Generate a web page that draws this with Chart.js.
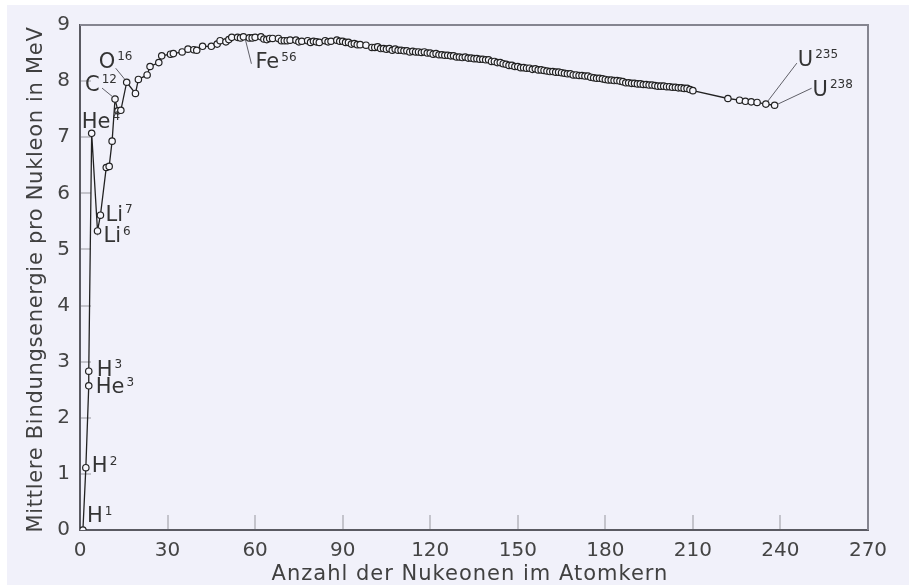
<!DOCTYPE html>
<html><head><meta charset="utf-8">
<script src="https://cdn.jsdelivr.net/npm/chart.js@4.4.0/dist/chart.umd.min.js"></script>
<style>
html,body{margin:0;padding:0;background:#ffffff;}
#wrap{position:absolute;left:0;top:0;width:909px;height:586px;}
canvas{display:block;}
</style></head><body>
<div id="wrap"><canvas id="c" width="909" height="586"></canvas></div>
<script>
// Mass numbers (Anzahl der Nukleonen) and mean binding energy per nucleon (MeV)
const massNumbers = [1,2,3,3,4,6,7,9,10,11,12,13,14,16,19,20,23,24,27,28,31,32,35,37,39,40,42,45,47,48,50,51,52,54,55,56,58,59,60,62,63,64,65,66,68,69,70,71,72,74,75,76,78,79,80,81,82,84,85,86,88,89,90,91,92,93,94,95,96,98,100,101,102,103,104,105,106,107,108,109,110,111,112,113,114,115,116,117,118,119,120,121,122,123,124,125,126,127,128,129,130,131,132,133,134,135,136,137,138,139,140,141,142,143,144,145,146,147,148,149,150,151,152,153,154,155,156,157,158,159,160,161,162,163,164,165,166,167,168,169,170,171,172,173,174,175,176,177,178,179,180,181,182,183,184,185,186,187,188,189,190,191,192,193,194,195,196,197,198,199,200,201,202,203,204,205,206,207,208,209,210,222,226,228,230,232,235,238];
const bindingEnergy = [0,1.11,2.57,2.83,7.07,5.33,5.61,6.46,6.48,6.93,7.68,7.47,7.48,7.98,7.78,8.03,8.11,8.26,8.33,8.45,8.48,8.49,8.52,8.57,8.56,8.55,8.62,8.62,8.66,8.72,8.70,8.74,8.78,8.78,8.77,8.79,8.77,8.77,8.78,8.79,8.75,8.74,8.76,8.76,8.76,8.72,8.72,8.72,8.73,8.73,8.70,8.71,8.72,8.69,8.71,8.70,8.69,8.72,8.70,8.71,8.73,8.71,8.71,8.69,8.69,8.66,8.67,8.65,8.65,8.64,8.60,8.60,8.61,8.58,8.58,8.57,8.58,8.55,8.57,8.55,8.55,8.54,8.54,8.52,8.53,8.52,8.52,8.51,8.52,8.50,8.50,8.48,8.49,8.47,8.47,8.46,8.46,8.45,8.45,8.43,8.43,8.42,8.43,8.41,8.41,8.40,8.40,8.39,8.39,8.38,8.38,8.35,8.35,8.33,8.33,8.31,8.30,8.28,8.28,8.26,8.26,8.24,8.24,8.23,8.23,8.21,8.22,8.20,8.20,8.19,8.18,8.17,8.17,8.16,8.16,8.15,8.14,8.13,8.13,8.11,8.11,8.10,8.10,8.09,8.09,8.07,8.06,8.05,8.05,8.04,8.03,8.02,8.02,8.01,8.01,8.00,7.99,7.97,7.97,7.96,7.96,7.95,7.95,7.94,7.94,7.93,7.93,7.92,7.91,7.91,7.91,7.90,7.90,7.89,7.89,7.88,7.88,7.87,7.87,7.85,7.83,7.69,7.66,7.64,7.63,7.62,7.59,7.57];
const xTickValues = [0,30,60,90,120,150,180,210,240,270];
const yTickValues = [0,1,2,3,4,5,6,7,8,9];
const xTitle = 'Anzahl der Nukeonen im Atomkern';
const yTitle = 'Mittlere Bindungsenergie pro Nukleon in MeV';
// Labelled nuclides: element symbol, mass superscript, index of the data point
const labelSymbols = ['H','H','H','He','He','Li','Li','C','O','Fe','U','U'];
const labelMasses  = ['1','2','3','3','4','7','6','12','16','56','235','238'];
const labelPoints  = [0,1,3,2,4,6,5,10,13,massNumbers.indexOf(56),massNumbers.length-2,massNumbers.length-1];

// styling of labels: text offset from point (dx = left edge, dy = vertical middle), optional leader line
const labelStyle = [
  {dx:4, dy:-13},
  {dx:6, dy:-1},
  {dx:8, dy:-1},
  {dx:7, dy:2},
  {dx:-10, dy:-11},
  {dx:5, dy:0},
  {dx:6, dy:6},
  {dx:-30, dy:-14, lead:[-13,-11,-2,-2]},
  {dx:-28, dy:-20, lead:[-11,-14,-2,-3]},
  {dx:12, dy:26, lead:[2,3,8,27]},
  {dx:32, dy:-44, lead:[2,-3,31,-41]},
  {dx:38, dy:-15, lead:[3,-1,37,-17]}
];

const points = massNumbers.map((a,i)=>({x:a, y:bindingEnergy[i]}));
const FONT = "'DejaVu Sans', sans-serif";

const deco = {
  id:'deco',
  beforeDraw(chart){
    const ctx = chart.ctx;
    ctx.save();
    ctx.fillStyle = '#ffffff';
    ctx.fillRect(0,0,chart.width,chart.height);
    ctx.fillStyle = '#f1f1fa';
    ctx.fillRect(7,5,chart.width-7,chart.height-6);
    const a = chart.chartArea, xs = chart.scales.x, ys = chart.scales.y;
    // inward tick marks
    ctx.strokeStyle = '#c4c4cc';
    ctx.lineWidth = 2;
    yTickValues.forEach(v=>{
      if(v===0||v===9) return;
      const y = Math.round(ys.getPixelForValue(v));
      ctx.beginPath(); ctx.moveTo(a.left, y); ctx.lineTo(a.left+11, y); ctx.stroke();
    });
    xTickValues.forEach(v=>{
      if(v===0||v===270) return;
      const x = Math.round(xs.getPixelForValue(v));
      ctx.beginPath(); ctx.moveTo(x, a.bottom); ctx.lineTo(x, a.bottom-15); ctx.stroke();
    });
    ctx.restore();
  },
  afterDraw(chart){
    const ctx = chart.ctx;
    const a = chart.chartArea, xs = chart.scales.x, ys = chart.scales.y;
    ctx.save();
    // top & right frame
    ctx.strokeStyle = '#858590';
    ctx.lineWidth = 2;
    ctx.beginPath();
    ctx.moveTo(a.left, a.top); ctx.lineTo(a.right, a.top); ctx.lineTo(a.right, a.bottom);
    ctx.stroke();
    // axis titles
    ctx.fillStyle = '#404040';
    ctx.font = '21px ' + FONT;
    ctx.letterSpacing = '1px';
    ctx.textAlign = 'center';
    ctx.textBaseline = 'middle';
    ctx.fillText(xTitle, (a.left+a.right)/2 - 4, 575);
    ctx.letterSpacing = '0.7px';
    ctx.save();
    ctx.translate(37, (a.top+a.bottom)/2 + 2);
    ctx.rotate(-Math.PI/2);
    ctx.fillText(yTitle, 0, 0);
    ctx.restore();
    ctx.letterSpacing = '0px';
    // nuclide labels
    labelSymbols.forEach((sym,i)=>{
      const p = points[labelPoints[i]];
      const px = xs.getPixelForValue(p.x), py = ys.getPixelForValue(p.y);
      const st = labelStyle[i];
      if(st.lead){
        ctx.strokeStyle = '#606068';
        ctx.lineWidth = 1;
        ctx.beginPath();
        ctx.moveTo(px+st.lead[0], py+st.lead[1]);
        ctx.lineTo(px+st.lead[2], py+st.lead[3]);
        ctx.stroke();
      }
      ctx.fillStyle = '#333333';
      ctx.textAlign = 'left';
      ctx.textBaseline = 'middle';
      ctx.font = '21px ' + FONT;
      const x0 = px+st.dx, y0 = py+st.dy;
      ctx.fillText(sym, x0, y0);
      const w = ctx.measureText(sym).width;
      ctx.font = '12px ' + FONT;
      ctx.fillText(labelMasses[i], x0 + w + 2, y0 - 5);
    });
    ctx.restore();
  }
};

new Chart(document.getElementById('c'), {
  type:'scatter',
  data:{datasets:[{
    data: points,
    showLine:true,
    borderColor:'#222222',
    borderWidth:1.3,
    pointRadius:3.2,
    pointBorderWidth:1.2,
    pointBackgroundColor:'#f6f6fc',
    pointBorderColor:'#222222',
    tension:0
  }]},
  options:{
    responsive:false,
    animation:false,
    events:[],
    layout:{padding:{left:0, top:25, right:41, bottom:0}},
    plugins:{legend:{display:false}, tooltip:{enabled:false}},
    scales:{
      x:{
        type:'linear', min:0, max:270,
        afterBuildTicks(s){ s.ticks = xTickValues.map(v=>({value:v})); },
        afterFit(s){ s.height = 56; },
        grid:{display:false},
        border:{display:true, color:'#5a5a62', width:2},
        ticks:{color:'#444444', font:{family:FONT, size:20}, padding:1, maxRotation:0, autoSkip:false}
      },
      y:{
        type:'linear', min:0, max:9,
        afterBuildTicks(s){ s.ticks = yTickValues.map(v=>({value:v})); },
        afterFit(s){ s.width = 80; },
        grid:{display:false},
        border:{display:true, color:'#5a5a62', width:2},
        ticks:{color:'#444444', font:{family:FONT, size:20}, padding:2, autoSkip:false}
      }
    }
  },
  plugins:[deco]
});
</script>
</body></html>
